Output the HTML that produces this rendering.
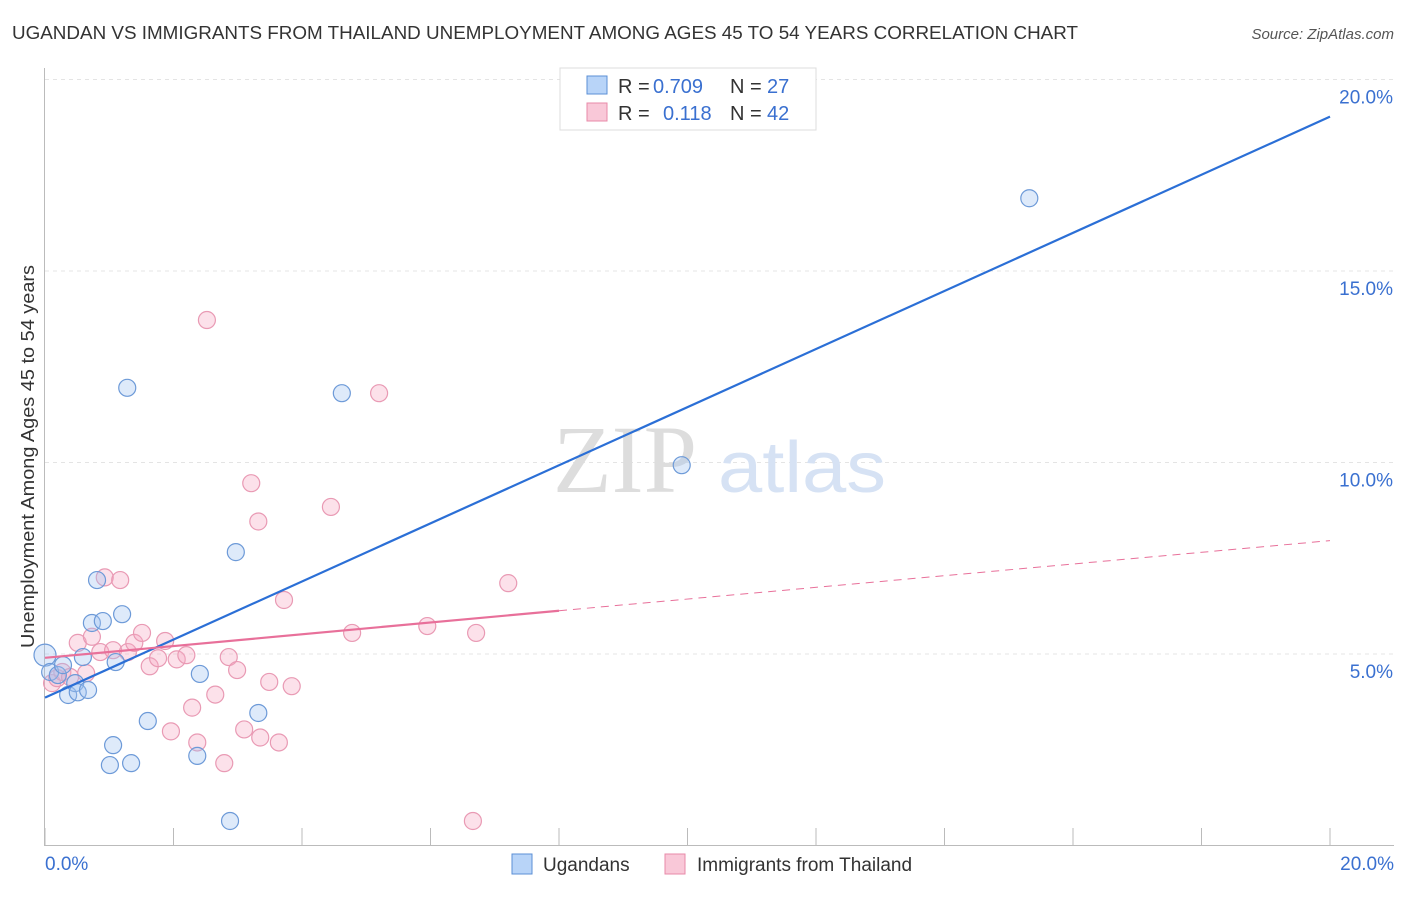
<!DOCTYPE html>
<html><head><meta charset="utf-8"><style>
body{margin:0;background:#fff;font-family:"Liberation Sans",sans-serif;}
</style></head><body>
<svg width="1406" height="892" xmlns="http://www.w3.org/2000/svg" font-family="Liberation Sans, sans-serif">
<text x="12" y="39" font-size="18" fill="#333" textLength="1066" lengthAdjust="spacingAndGlyphs">UGANDAN VS IMMIGRANTS FROM THAILAND UNEMPLOYMENT AMONG AGES 45 TO 54 YEARS CORRELATION CHART</text>
<text x="1394" y="39" font-size="15" fill="#555" text-anchor="end" font-style="italic">Source: ZipAtlas.com</text>
<text transform="translate(34,648) rotate(-90)" font-size="18" fill="#333" textLength="383" lengthAdjust="spacingAndGlyphs">Unemployment Among Ages 45 to 54 years</text>
<g id="grid"></g>
<text x="553" y="492" font-size="96" fill="#ddd" font-family="Liberation Serif, serif">ZIP</text>
<text x="718" y="492" font-size="72" fill="#d6e2f4" textLength="168" lengthAdjust="spacingAndGlyphs">atlas</text>
<g id="marks"></g>
<g>
<rect x="560" y="68" width="256" height="62" fill="#fff" stroke="#ddd"/>
<rect x="587" y="76" width="20" height="18" fill="#b8d4f8" stroke="#5b8fd6"/>
<rect x="587" y="103" width="20" height="18" fill="#f9c8d8" stroke="#e88aa8"/>
<text x="618" y="93" font-size="20" fill="#333">R =</text>
<text x="653" y="93" font-size="20" fill="#3a70d0">0.709</text>
<text x="730" y="93" font-size="20" fill="#333">N =</text>
<text x="767" y="93" font-size="20" fill="#3a70d0">27</text>
<text x="618" y="120" font-size="20" fill="#333">R =</text>
<text x="663" y="120" font-size="20" fill="#3a70d0">0.118</text>
<text x="730" y="120" font-size="20" fill="#333">N =</text>
<text x="767" y="120" font-size="20" fill="#3a70d0">42</text>
</g>
<g>
<rect x="512" y="854" width="20" height="20" fill="#b8d4f8" stroke="#5b8fd6"/>
<text x="543" y="871" font-size="19" fill="#333">Ugandans</text>
<rect x="665" y="854" width="20" height="20" fill="#f9c8d8" stroke="#e88aa8"/>
<text x="697" y="871" font-size="19" fill="#333">Immigrants from Thailand</text>
</g>
</svg>
<script>
const yTicks=[5,10,15,20];
const yTickLabels=["5.0%","10.0%","15.0%","20.0%"];
const blueX=[0,0.08,0.2,0.28,0.36,0.47,0.51,0.59,0.67,0.73,0.81,0.9,1.06,1.01,1.1,1.2,1.28,1.34,1.6,2.37,2.41,2.88,2.97,3.32,4.62,9.91,15.32];
const blueY=[4.97,4.53,4.45,4.71,3.93,4.24,4.0,4.92,4.06,5.81,6.93,5.86,2.62,2.1,4.79,6.04,11.95,2.15,3.25,2.34,4.48,0.64,7.66,3.46,11.81,9.93,16.9];
const pinkX=[0.11,0.19,0.27,0.39,0.51,0.64,0.73,0.86,0.93,1.06,1.17,1.29,1.39,1.51,1.63,1.76,1.87,1.96,2.05,2.2,2.29,2.37,2.52,2.65,2.79,2.86,2.99,3.1,3.21,3.32,3.35,3.49,3.64,3.72,3.84,4.45,4.78,5.2,5.95,6.66,6.71,7.21];
const pinkY=[4.24,4.37,4.53,4.4,5.29,4.5,5.45,5.05,7.0,5.1,6.93,5.05,5.29,5.55,4.68,4.89,5.34,2.98,4.86,4.97,3.6,2.69,13.72,3.94,2.15,4.92,4.58,3.03,9.46,8.46,2.82,4.27,2.69,6.41,4.16,8.84,5.55,11.81,5.73,0.64,5.55,6.85];
const blueLine=[0,3.86,20,19.03];
const pinkLine=[0,4.9,8,6.13,20,7.96];
const X=v=>45+v*64.25, Y=v=>845.5-v*38.3;
const NS="http://www.w3.org/2000/svg";
function mk(t,a,p){const e=document.createElementNS(NS,t);for(const k in a)e.setAttribute(k,a[k]);p.appendChild(e);return e;}
const g=document.getElementById('grid'),m=document.getElementById('marks');
yTicks.forEach((t,i)=>{const l=mk('line',{x1:45,x2:1394,y1:Y(t),y2:Y(t),stroke:'#e4e4e4','stroke-dasharray':'4,4'},g);


const tx=mk('text',{x:1393,y:Y(t)+24,'font-size':19,fill:'#3a70d0','text-anchor':'end'},g);tx.textContent=yTickLabels[i];

});
mk('line',{x1:44.5,x2:44.5,y1:68,y2:845,stroke:'#bbb'},g);
mk('line',{x1:44,x2:1394,y1:845.5,y2:845.5,stroke:'#bbb'},g);
for(let i=0;i<=10;i++){const t=mk('line',{x1:X(i*2),x2:X(i*2),y1:828,y2:845,stroke:'#bbb'},g);

}
const x0=mk('text',{x:45,y:870,'font-size':19,fill:'#3a70d0'},g);x0.textContent="0.0%";


const x1=mk('text',{x:1394,y:870,'font-size':19,fill:'#3a70d0','text-anchor':'end'},g);x1.textContent="20.0%";


pinkX.forEach((v,i)=>{const c=mk('circle',{cx:X(v),cy:Y(pinkY[i]),r:8.5,fill:'rgba(245,170,195,0.35)',stroke:'#e99ab4','stroke-width':1.2},m);

});
blueX.forEach((v,i)=>{const c=mk('circle',{cx:X(v),cy:Y(blueY[i]),r:i==0?11:8.5,fill:'rgba(160,195,240,0.35)',stroke:'#6d9ad8','stroke-width':1.2},m);

});
const bl=mk('line',{x1:X(blueLine[0]),y1:Y(blueLine[1]),x2:X(blueLine[2]),y2:Y(blueLine[3]),stroke:'#2b6fd6','stroke-width':2.2},m);


const pl=mk('line',{x1:X(pinkLine[0]),y1:Y(pinkLine[1]),x2:X(pinkLine[2]),y2:Y(pinkLine[3]),stroke:'#e8709a','stroke-width':2.2},m);


const pd=mk('line',{x1:X(pinkLine[2]),y1:Y(pinkLine[3]),x2:X(pinkLine[4]),y2:Y(pinkLine[5]),stroke:'#e8709a','stroke-width':1,'stroke-dasharray':'8,6'},m);


</script>
</body></html>
